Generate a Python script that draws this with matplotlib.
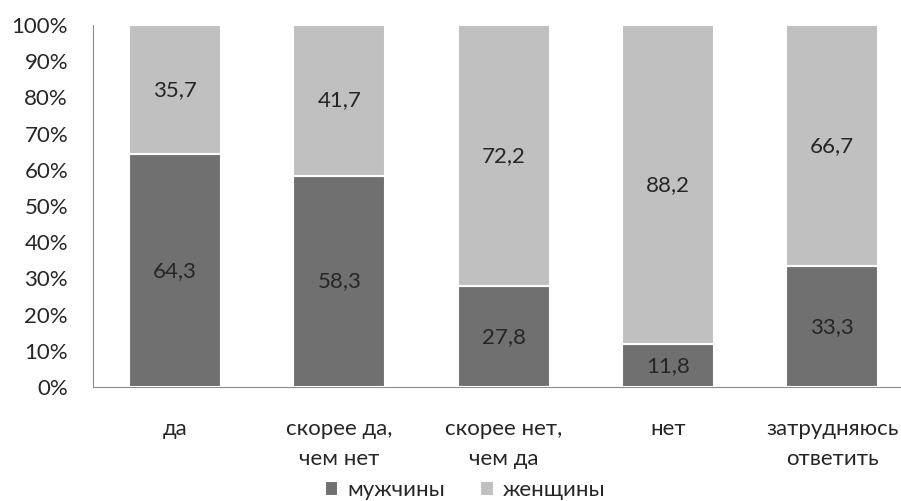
import matplotlib
matplotlib.use("Agg")
import matplotlib.pyplot as plt
from matplotlib.ticker import PercentFormatter

categories = ["да", "скорее да,\nчем нет", "скорее нет,\nчем да", "нет", "затрудняюсь\nответить"]
men = [64.3, 58.3, 27.8, 11.8, 33.3]
women = [35.7, 41.7, 72.2, 88.2, 66.7]
series_names = ["мужчины", "женщины"]

dark = "#707070"
light = "#c0c0c0"
text_color = "#262626"

plt.rcParams["font.family"] = ["Lato", "DejaVu Sans"]
fs = 16

fig = plt.figure(figsize=(9.01, 5.01), dpi=100)
ax = fig.add_axes([93 / 901, (501 - 387) / 501, (901 - 93) / 901, (387 - 25) / 501])

x = list(range(len(categories)))
width = 0.56

ax.bar(x, men, width, color=dark, edgecolor="white", linewidth=1.5, label=series_names[0], zorder=3)
ax.bar(x, women, width, bottom=men, color=light, edgecolor="white", linewidth=1.5, label=series_names[1], zorder=3)

def fmt(v):
    return f"{v:.1f}".replace(".", ",")

for xi, m, w in zip(x, men, women):
    ax.text(xi, m / 2, fmt(m), ha="center", va="center", fontsize=fs, color=text_color, zorder=4)
    ax.text(xi, m + w / 2, fmt(w), ha="center", va="center", fontsize=fs, color=text_color, zorder=4)

ax.set_ylim(0, 100)
ax.set_xlim(-0.5, (901 - 93) / 164.25 - 0.5)
ax.set_yticks(range(0, 101, 10))
ax.yaxis.set_major_formatter(PercentFormatter(decimals=0))
ax.set_xticks(x)
ax.set_xticklabels(categories, fontsize=fs, color=text_color, linespacing=1.6)
ax.tick_params(axis="y", labelsize=fs, labelcolor=text_color, length=0, pad=18)
ax.tick_params(axis="x", length=0, pad=23)

for s in ["top", "right"]:
    ax.spines[s].set_visible(False)
ax.spines["left"].set_color("#8c8c8c")
ax.spines["bottom"].set_color("#8c8c8c")

ax.legend(loc="lower center", bbox_to_anchor=((465 - 93) / 808, -0.35), ncol=2, frameon=False,
          fontsize=fs, handlelength=0.6, handleheight=0.6, handletextpad=0.4, columnspacing=1.6,
          labelcolor=text_color, borderpad=0.1)

fig.savefig("out.png", dpi=100)
